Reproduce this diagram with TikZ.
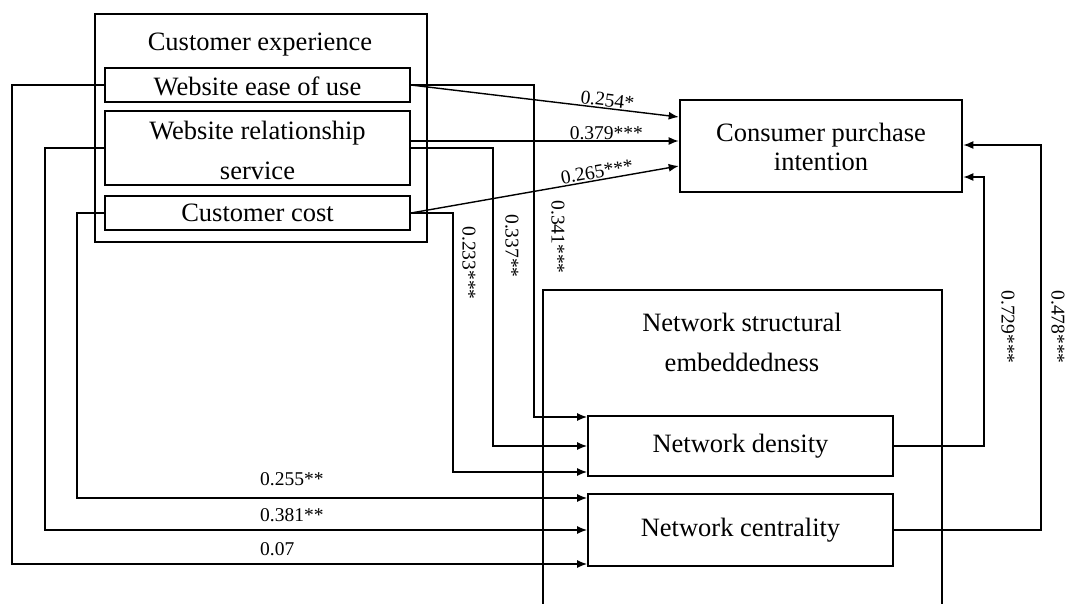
\documentclass[tikz,border=0pt]{standalone}
\usepackage{fontspec}
\setmainfont{Liberation Serif}
\usetikzlibrary{arrows.meta,calc}
\begin{document}
\begin{tikzpicture}[x=1pt,y=-1pt,
  outerbox/.style={draw,line width=2.6pt,inner sep=0pt},
  innerbox/.style={draw,line width=1.8pt,inner sep=0pt,minimum width=305pt},
  conn/.style={line width=1.4pt,-{Latex[length=10pt,width=8pt]}},
  txt/.style={font=\fontsize{26.5}{40}\selectfont,align=center,inner sep=0pt},
  coef/.style={font=\fontsize{19.5}{20}\selectfont,inner sep=1pt}]
\useasboundingbox (0,0) rectangle (1068,603);
\clip (0,0) rectangle (1068,603);

% customer experience block
\node[outerbox,minimum width=332pt,minimum height=228pt] (ce) at (261,128) {};
\node[txt] (cetitle) at (260,45) {Customer experience};
\node[innerbox,minimum height=34pt] (weu) at (257.5,85) {};
\node[txt] (weut) at (257.5,86) {Website ease of use};
\node[innerbox,minimum height=74pt] (wrs) at (257.5,148) {};
\node[txt] (wrst) at (257.5,150) {Website relationship\\service};
\node[innerbox,minimum height=34pt] (cc) at (257.5,213) {};
\node[txt] (cct) at (257.5,213) {Customer cost};

% purchase intention
\node[outerbox,minimum width=282pt,minimum height=92pt] (cpi) at (821,146) {};
\node[txt,font=\fontsize{26.5}{29}\selectfont] (cpit) at (821,147) {Consumer purchase\\intention};

% network structural embeddedness block
\node[outerbox,minimum width=399pt,minimum height=330pt] (nse) at (742.5,455) {};
\node[txt] (nset) at (742,342) {Network structural\\embeddedness};
\node[innerbox,minimum height=60pt] (nd) at (740.5,446) {};
\node[txt] (ndt) at (740.5,446) {Network density};
\node[innerbox,minimum height=72pt] (ncn) at (740.5,530) {};
\node[txt] (ncnt) at (740.5,530) {Network centrality};

% paths to purchase intention
\draw[conn] (weu.east) -- node[coef,pos=0.73,above,sloped] (l254) {0.254*} ($(cpi.west)+(0,-29)$);
\draw[conn] ($(wrs.east)+(0,-7)$) -- node[coef,pos=0.73,above] (l379) {0.379***} ($(cpi.west)+(0,-5)$);
\draw[conn] (cc.east) -- node[coef,pos=0.70,above,sloped] (l265) {0.265***} ($(cpi.west)+(0,20)$);

% paths to network density
\draw[conn] (weu.east) -- ++(123,0) |- ($(nd.west)+(0,-29)$);
\draw[conn] (wrs.east) -- ++(82,0) |- (nd.west);
\draw[conn] (cc.east) -- ++(42,0) |- ($(nd.west)+(0,26)$);
\node[coef,rotate=-90] (l341) at (558,237) {0.341***};
\node[coef,rotate=-90] (l337) at (512,246) {0.337**};
\node[coef,rotate=-90] (l233) at (469,263) {0.233***};

% paths to network centrality
\draw[conn] (cc.west) -- ++(-27,0) |- ($(ncn.west)+(0,-32)$);
\draw[conn] (wrs.west) -- ++(-59,0) |- (ncn.west);
\draw[conn] (weu.west) -- ++(-92,0) |- ($(ncn.west)+(0,34)$);
\node[coef,anchor=west] (l255) at (259,479) {0.255**};
\node[coef,anchor=west] (l381) at (259,515) {0.381**};
\node[coef,anchor=west] (l07) at (259,549) {0.07};

% embeddedness to purchase intention
\draw[conn] (nd.east) -- ++(90,0) |- ($(cpi.east)+(0,31)$);
\draw[conn] (ncn.east) -- ++(147,0) |- ($(cpi.east)+(0,-1)$);
\node[coef,rotate=-90] (l729) at (1008,327) {0.729***};
\node[coef,rotate=-90] (l478) at (1058,327) {0.478***};
\end{tikzpicture}
\end{document}
